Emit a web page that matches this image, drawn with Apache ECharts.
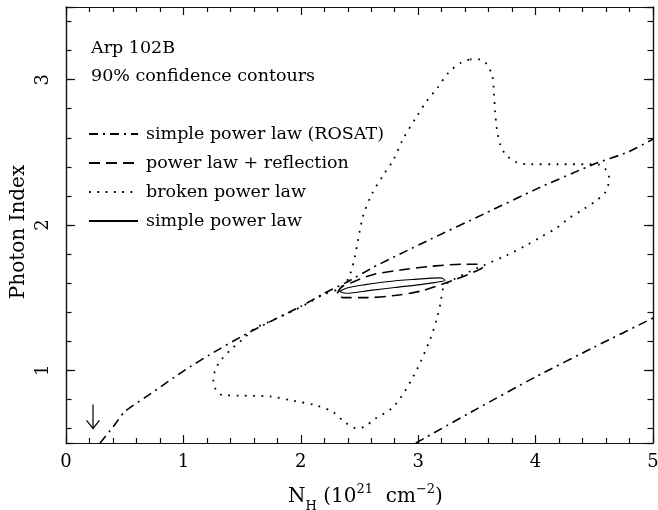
<!DOCTYPE html>
<html><head><meta charset="utf-8">
<script src="https://cdn.jsdelivr.net/npm/echarts@6/dist/echarts.min.js"></script>
<style>html,body{margin:0;padding:0;background:#fff}#c{width:658px;height:510px}</style>
</head><body><div id="c"></div>
<script>
// ---- data ----
const seriesNames = ['simple power law (ROSAT)', 'power law + reflection', 'broken power law', 'simple power law'];
const titleLines = ['Arp 102B', '90% confidence contours'];

// ROSAT contour: two branches clipped by the frame
const rosatUpper = [[0.29,0.5],[0.4,0.61],[0.5,0.715],[0.75,0.855],[1.0,0.995],[1.25,1.12],[1.5,1.235],[1.75,1.34],[2.0,1.44],[2.2,1.53],[2.4,1.61],[2.62,1.71],[2.87,1.81],[3.1,1.9],[3.57,2.08],[4.0,2.245],[4.5,2.42],[4.78,2.5],[5.0,2.59]];
const rosatLower = [[2.98,0.5],[3.5,0.735],[4.0,0.955],[4.5,1.16],[5.0,1.36]];

const reflection = [[2.31,1.53],[2.35,1.575],[2.45,1.61],[2.62,1.66],[2.85,1.69],[3.10,1.715],[3.38,1.73],[3.50,1.73],[3.55,1.71],[3.50,1.685],[3.30,1.62],[3.02,1.545],[2.80,1.515],[2.55,1.50],[2.36,1.50],[2.31,1.53]];

const brokenPL = [[3.44,3.14],[3.53,3.14],[3.58,3.11],[3.63,3.03],[3.645,2.91],[3.655,2.78],[3.67,2.66],[3.70,2.55],[3.75,2.48],[3.84,2.43],[3.95,2.418],[4.2,2.418],[4.46,2.418],[4.54,2.415],[4.59,2.39],[4.625,2.34],[4.62,2.28],[4.59,2.22],[4.52,2.17],[4.41,2.11],[4.29,2.05],[4.18,1.98],[4.05,1.92],[3.92,1.86],[3.75,1.79],[3.55,1.72],[3.44,1.68],[3.30,1.625],[3.22,1.58],[3.19,1.46],[3.16,1.36],[3.10,1.21],[2.96,0.96],[2.79,0.75],[2.62,0.66],[2.55,0.615],[2.48,0.60],[2.38,0.64],[2.28,0.71],[2.14,0.757],[1.94,0.79],[1.74,0.82],[1.48,0.826],[1.33,0.83],[1.275,0.87],[1.255,0.936],[1.27,1.0],[1.31,1.06],[1.40,1.14],[1.50,1.21],[1.61,1.29],[1.72,1.33],[1.91,1.40],[2.08,1.47],[2.19,1.52],[2.31,1.555],[2.38,1.60],[2.42,1.66],[2.46,1.78],[2.53,2.06],[2.61,2.22],[2.70,2.34],[2.79,2.45],[2.87,2.59],[2.99,2.75],[3.07,2.85],[3.16,2.94],[3.26,3.05],[3.37,3.12],[3.44,3.14]];

const simplePL = [[2.33,1.543],[2.40,1.568],[2.55,1.59],[2.73,1.61],[2.95,1.625],[3.19,1.636],[3.23,1.62],[3.15,1.605],[3.02,1.59],[2.80,1.57],[2.59,1.55],[2.39,1.53],[2.33,1.543]];

// upper limit arrow: [x, y top, y tip]
const upperLimit = [[0.23, 0.765, 0.60]];

const xRange = [0, 5];
const yRange = [0.5, 3.5];

// ---- chart ----
const FONT = 'DejaVu Serif';
const AX = '#111';
const TXT = 17.5;
const chart = echarts.init(document.getElementById('c'), null, {renderer: 'canvas'});

function yAxisDef(position, major, showLabels) {
  return {
    type: 'value', position: position, min: yRange[0], max: yRange[1],
    splitNumber: major ? 3 : 15,
    axisLine: {show: true, lineStyle: {color: AX, width: 1.2}},
    axisTick: {show: true, inside: true, length: major ? 9 : 5.5, lineStyle: {color: AX, width: 1.2}},
    splitLine: {show: false},
    axisLabel: showLabels ? {
      show: true, rotate: 90, margin: 14, color: '#000', fontFamily: FONT, fontSize: 18,
      formatter: v => (Math.abs(v - Math.round(v)) < 1e-6 ? String(Math.round(v)) : '')
    } : {show: false},
    name: showLabels ? 'Photon Index' : '',
    nameLocation: 'middle', nameGap: 37, nameRotate: 90, nameMoveOverlap: false,
    nameTextStyle: {color: '#000', fontFamily: FONT, fontSize: 20, padding: [0, 14, 0, 0]}
  };
}
function xAxisDef(position, showLabels) {
  return {
    type: 'value', position: position, min: xRange[0], max: xRange[1], interval: 1,
    axisLine: {show: true, lineStyle: {color: AX, width: 1.2}},
    axisTick: {show: true, inside: true, length: 8, lineStyle: {color: AX, width: 1.2}},
    minorTick: {show: true, splitNumber: 5, length: 5, lineStyle: {color: AX, width: 1.2}},
    splitLine: {show: false},
    axisLabel: showLabels ? {show: true, margin: 10, color: '#000', fontFamily: FONT, fontSize: 18} : {show: false},
    name: showLabels ? '{t|N}{sub|H}{t| (10}{sup|21}{t|  cm}{sup|−2}{t|)}' : '',
    nameLocation: 'middle', nameGap: 41,
    nameTextStyle: {
      color: '#000', fontFamily: FONT, fontSize: 20, padding: [0, 0, 0, 12],
      rich: {
        t: {fontFamily: FONT, fontSize: 20, color: '#000', lineHeight: 26, verticalAlign: 'middle'},
        sub: {fontFamily: FONT, fontSize: 13, color: '#000', lineHeight: 26, verticalAlign: 'bottom', padding: [0, 0, -3, 0]},
        sup: {fontFamily: FONT, fontSize: 13, color: '#000', lineHeight: 26, verticalAlign: 'top', padding: [-1, 0, 0, 0]}
      }
    }
  };
}

const lineBase = {type: 'line', symbol: 'none', showSymbol: false, xAxisIndex: 0, yAxisIndex: 0, animation: false, silent: true, clip: true, color: '#000', itemStyle: {color: '#000', opacity: 0}};
const dashDot = [9, 5, 2, 5];

chart.setOption({
  backgroundColor: '#fff',
  animation: false,
  color: ['#000'],
  grid: {left: 66, right: 5, top: 7, bottom: 67, containLabel: false, outerBoundsMode: 'none'},
  title: [
    {text: titleLines[0], left: 91, top: 40, padding: 0, textStyle: {fontFamily: FONT, fontSize: TXT, fontWeight: 'normal', color: '#000', lineHeight: 16}},
    {text: titleLines[1], left: 91, top: 68, padding: 0, textStyle: {fontFamily: FONT, fontSize: TXT, fontWeight: 'normal', color: '#000', lineHeight: 16}}
  ],
  legend: {
    orient: 'vertical', left: 88, top: 125, padding: 0,
    itemWidth: 49, itemHeight: 16, itemGap: 11,
    data: seriesNames,
    selectedMode: false,
    itemStyle: {opacity: 0, borderWidth: 0},
    textStyle: {fontFamily: FONT, fontSize: TXT, color: '#000', lineHeight: 16, padding: [0, 0, 0, 3]}
  },
  xAxis: [xAxisDef('bottom', true), xAxisDef('top', false)],
  yAxis: [yAxisDef('left', false, false), yAxisDef('left', true, true), yAxisDef('right', false, false), yAxisDef('right', true, false)],
  series: [
    Object.assign({}, lineBase, {name: seriesNames[0], data: rosatUpper, smooth: 0.2, lineStyle: {color: '#000', width: 1.6, type: dashDot}}),
    Object.assign({}, lineBase, {name: seriesNames[0], data: rosatLower, smooth: 0.2, lineStyle: {color: '#000', width: 1.6, type: dashDot}}),
    Object.assign({}, lineBase, {name: seriesNames[1], data: reflection, smooth: 0.3, lineStyle: {color: '#000', width: 1.6, type: [11, 6]}}),
    Object.assign({}, lineBase, {name: seriesNames[2], data: brokenPL, smooth: 0.3, lineStyle: {color: '#000', width: 1.8, type: [1.8, 6.5]}}),
    Object.assign({}, lineBase, {name: seriesNames[3], data: simplePL, smooth: 0.3, lineStyle: {color: '#000', width: 1.1, type: 'solid'}}),
    {
      type: 'custom', xAxisIndex: 0, yAxisIndex: 0, silent: true, animation: false,
      data: upperLimit, encode: {x: 0, y: [1, 2]},
      renderItem: function (params, api) {
        const top = api.coord([api.value(0), api.value(1)]);
        const tip = api.coord([api.value(0), api.value(2)]);
        return {type: 'group', children: [
          {type: 'line', shape: {x1: top[0], y1: top[1], x2: tip[0], y2: tip[1]}, style: {stroke: '#000', lineWidth: 1.2}},
          {type: 'polyline', shape: {points: [[tip[0] - 6.5, tip[1] - 8], [tip[0], tip[1]], [tip[0] + 6.5, tip[1] - 8]]}, style: {stroke: '#000', fill: null, lineWidth: 1.2}}
        ]};
      }
    }
  ]
});
</script></body></html>
